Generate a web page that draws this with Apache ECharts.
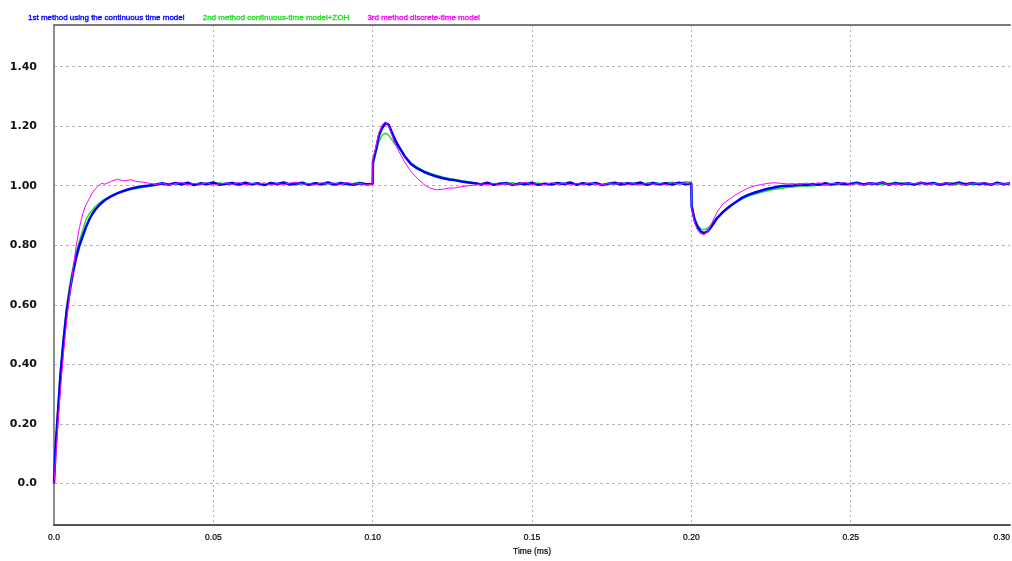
<!DOCTYPE html>
<html>
<head>
<meta charset="utf-8">
<script src="https://cdn.jsdelivr.net/npm/echarts@6/dist/echarts.min.js"></script>
<style>
html,body{margin:0;padding:0;background:#fff;}
#chart{width:1012px;height:561px;}
</style>
</head>
<body>
<div id="chart"></div>
<script>
// Time samples (ms)
const timeMs = [
  0, 0.0005, 0.001, 0.0015, 0.002, 0.003, 0.004, 0.005, 0.006, 0.007, 0.008, 0.009, 0.010, 0.011, 0.012, 0.013, 0.014, 0.015, 0.016, 0.018, 0.020, 0.022, 0.024, 0.026, 0.028, 0.030,
  0.032, 0.034, 0.036, 0.038, 0.040, 0.042, 0.044, 0.046, 0.048, 0.050, 0.052, 0.054, 0.056, 0.058, 0.060, 0.062, 0.064, 0.066, 0.068, 0.070, 0.072, 0.074, 0.076, 0.078, 0.080, 0.082, 0.084, 0.086, 0.088, 0.090, 0.092, 0.094, 0.096, 0.098,
  0.100, 0.1001, 0.101, 0.102, 0.103, 0.104, 0.105, 0.106, 0.107, 0.108, 0.109, 0.110, 0.112, 0.114, 0.116, 0.118, 0.120, 0.122, 0.124, 0.126, 0.128, 0.130,
  0.132, 0.134, 0.136, 0.138, 0.140, 0.142, 0.144, 0.146, 0.148, 0.150, 0.152, 0.154, 0.156, 0.158, 0.160, 0.162, 0.164, 0.166, 0.168, 0.170, 0.172, 0.174, 0.176, 0.178, 0.180, 0.182, 0.184, 0.186, 0.188, 0.190, 0.192, 0.194, 0.196, 0.198,
  0.200, 0.2001, 0.201, 0.202, 0.203, 0.204, 0.205, 0.206, 0.208, 0.210, 0.212, 0.214, 0.216, 0.218, 0.220, 0.222, 0.224, 0.226, 0.228, 0.230,
  0.232, 0.234, 0.236, 0.238, 0.240, 0.242, 0.244, 0.246, 0.248, 0.250, 0.252, 0.254, 0.256, 0.258, 0.260, 0.262, 0.264, 0.266, 0.268, 0.270, 0.272, 0.274, 0.276, 0.278, 0.280, 0.282, 0.284, 0.286, 0.288, 0.290, 0.292, 0.294, 0.296, 0.298, 0.300
];

// 1st method using the continuous time model
const method1 = [
  0, 0.12, 0.2, 0.28, 0.36, 0.48, 0.58, 0.65, 0.71, 0.76, 0.80, 0.83, 0.86, 0.885, 0.905, 0.92, 0.932, 0.943, 0.952, 0.965, 0.975, 0.983, 0.99, 0.995, 0.998, 1.001,
  1.004, 1.008, 1.003, 1.009, 1.005, 1.010, 1.002, 1.008, 1.006, 1.011, 1.003, 1.007, 1.009, 1.004, 1.010, 1.005, 1.008, 1.002, 1.009, 1.006, 1.011, 1.004, 1.007, 1.010, 1.003, 1.008, 1.005, 1.011, 1.004, 1.009, 1.006, 1.003, 1.008, 1.005,
  1.006, 1.08, 1.12, 1.17, 1.195, 1.21, 1.205, 1.18, 1.155, 1.135, 1.118, 1.10, 1.073, 1.058, 1.047, 1.038, 1.031, 1.025, 1.021, 1.018, 1.014, 1.011,
  1.008, 1.004, 1.010, 1.003, 1.007, 1.009, 1.002, 1.008, 1.005, 1.010, 1.003, 1.007, 1.004, 1.009, 1.006, 1.011, 1.003, 1.008, 1.005, 1.009, 1.002, 1.007, 1.010, 1.004, 1.008, 1.006, 1.011, 1.003, 1.009, 1.005, 1.008, 1.004, 1.010, 1.006,
  1.007, 0.93, 0.885, 0.86, 0.846, 0.841, 0.846, 0.858, 0.89, 0.912, 0.93, 0.945, 0.96, 0.97, 0.977, 0.984, 0.99, 0.994, 0.998, 1.0,
  1.001, 1.004, 1.002, 1.006, 1.003, 1.008, 1.004, 1.009, 1.005, 1.007, 1.010, 1.004, 1.008, 1.006, 1.011, 1.003, 1.009, 1.005, 1.008, 1.004, 1.010, 1.006, 1.009, 1.003, 1.008, 1.005, 1.011, 1.004, 1.009, 1.006, 1.008, 1.003, 1.010, 1.005, 1.008
];

// 2nd method continuous-time model+ZOH
const method2 = [
  0, 0.13, 0.22, 0.30, 0.38, 0.50, 0.60, 0.67, 0.73, 0.78, 0.815, 0.85, 0.885, 0.905, 0.918, 0.93, 0.94, 0.948, 0.955, 0.966, 0.975, 0.982, 0.987, 0.991, 0.995, 0.998,
  1.001, 1.006, 1.003, 1.008, 1.002, 1.007, 1.005, 1.009, 1.003, 1.006, 1.010, 1.004, 1.007, 1.002, 1.008, 1.005, 1.010, 1.003, 1.007, 1.004, 1.009, 1.006, 1.002, 1.008, 1.005, 1.010, 1.004, 1.007, 1.003, 1.009, 1.005, 1.008, 1.012, 1.006,
  1.008, 1.07, 1.11, 1.15, 1.17, 1.177, 1.17, 1.155, 1.14, 1.128, 1.115, 1.10, 1.078, 1.062, 1.05, 1.042, 1.035, 1.029, 1.024, 1.02, 1.016, 1.013,
  1.010, 1.007, 1.011, 1.005, 1.009, 1.006, 1.010, 1.004, 1.008, 1.005, 1.009, 1.003, 1.007, 1.010, 1.005, 1.008, 1.004, 1.009, 1.006, 1.011, 1.004, 1.008, 1.005, 1.010, 1.006, 1.009, 1.003, 1.008, 1.011, 1.006, 1.009, 1.012, 1.008, 1.013,
  1.012, 0.94, 0.895, 0.868, 0.855, 0.852, 0.856, 0.866, 0.892, 0.915, 0.932, 0.945, 0.956, 0.965, 0.972, 0.978, 0.983, 0.988, 0.991, 0.994,
  0.996, 0.998, 1.000, 0.999, 1.003, 1.001, 1.005, 1.003, 1.007, 1.004, 1.008, 1.005, 1.009, 1.006, 1.004, 1.008, 1.005, 1.010, 1.006, 1.003, 1.008, 1.005, 1.009, 1.004, 1.007, 1.010, 1.005, 1.008, 1.003, 1.007, 1.009, 1.005, 1.008, 1.004, 1.007
];

// 3rd method discrete-time model
const method3 = [
  0, 0.08, 0.16, 0.24, 0.31, 0.44, 0.55, 0.64, 0.72, 0.80, 0.86, 0.905, 0.935, 0.955, 0.975, 0.99, 1.0, 1.008, 1.005, 1.015, 1.022, 1.016, 1.02, 1.014, 1.012, 1.008,
  1.004, 1.009, 1.002, 1.007, 1.011, 1.003, 1.008, 1.005, 1.010, 1.002, 1.006, 1.009, 1.004, 1.011, 1.003, 1.008, 1.005, 1.010, 1.002, 1.007, 1.004, 1.009, 1.012, 1.005, 1.008, 1.003, 1.010, 1.006, 1.009, 1.004, 1.011, 1.005, 1.008, 1.003,
  1.005, 1.09, 1.13, 1.18, 1.205, 1.215, 1.20, 1.17, 1.14, 1.12, 1.10, 1.08, 1.048, 1.025, 1.005, 0.992, 0.986, 0.988, 0.992, 0.993, 0.997, 1.0,
  1.002, 1.006, 1.003, 1.008, 1.004, 1.009, 1.002, 1.007, 1.011, 1.004, 1.008, 1.003, 1.010, 1.005, 1.009, 1.002, 1.007, 1.004, 1.010, 1.006, 1.003, 1.008, 1.005, 1.011, 1.004, 1.007, 1.002, 1.009, 1.005, 1.008, 1.003, 1.010, 1.006, 1.009,
  1.005, 0.925, 0.875, 0.85, 0.838, 0.836, 0.845, 0.865, 0.91, 0.94, 0.955, 0.97, 0.982, 0.993, 1.0, 1.004, 1.008, 1.01, 1.008, 1.006,
  1.007, 1.004, 1.009, 1.005, 1.010, 1.003, 1.008, 1.006, 1.011, 1.004, 1.008, 1.002, 1.009, 1.005, 1.010, 1.003, 1.007, 1.004, 1.009, 1.006, 1.011, 1.003, 1.008, 1.005, 1.010, 1.004, 1.008, 1.002, 1.009, 1.006, 1.011, 1.004, 1.008, 1.005, 1.009
];

const seriesNames = [
  '1st method using the continuous time model',
  '2nd method continuous-time model+ZOH',
  '3rd method discrete-time model'
];
const seriesColors = ['#0000ff', '#22e022', '#ff00ff'];
const yTicks = [0, 0.2, 0.4, 0.6, 0.8, 1.0, 1.2, 1.4];

function pairs(vals) {
  const n = Math.min(timeMs.length, vals.length);
  const out = [];
  for (let i = 0; i < n; i++) out.push([timeMs[i], vals[i]]);
  return out;
}

const sans = "'Liberation Sans', Arial, sans-serif";

const chart = echarts.init(document.getElementById('chart'), null, {renderer: 'canvas'});
chart.setOption({
  animation: false,
  backgroundColor: '#ffffff',
  legend: {
    top: 8,
    left: 18,
    icon: 'none',
    itemWidth: 0,
    itemHeight: 10,
    itemGap: 13,
    selectedMode: false,
    textStyle: {fontFamily: sans, fontSize: 8},
    data: seriesNames.map((n, i) => ({
      name: n,
      textStyle: {color: seriesColors[i], textBorderColor: seriesColors[i], textBorderWidth: 0.35}
    }))
  },
  grid: {
    left: 54, right: 2, top: 25, bottom: 36,
    show: false, containLabel: false, outerBoundsMode: 'none'
  },
  xAxis: [{
    type: 'value',
    min: 0, max: 0.3, interval: 0.05,
    name: 'Time (ms)',
    nameLocation: 'middle',
    nameGap: 18,
    nameTextStyle: {fontFamily: sans, fontSize: 8.5, color: '#000', textBorderColor: '#000', textBorderWidth: 0.2},
    axisLine: {show: true, onZero: false, lineStyle: {color: '#555', width: 2}},
    axisTick: {show: false},
    axisLabel: {
      fontFamily: sans, fontSize: 8.5, color: '#000', margin: 8, alignMaxLabel: 'right',
      textBorderColor: '#000', textBorderWidth: 0.2,
      formatter: v => (v === 0 ? '0.0' : v.toFixed(2))
    },
    splitLine: {show: true, showMaxLine: false, lineStyle: {color: '#b0b0b0', type: [2, 3], width: 1}}
  }, {
    type: 'value',
    position: 'top',
    min: 0, max: 0.3,
    axisLine: {show: true, onZero: false, lineStyle: {color: '#7a7a7a', width: 2}},
    axisTick: {show: false},
    axisLabel: {show: false},
    splitLine: {show: false}
  }],
  yAxis: {
    type: 'value',
    min: -0.14, max: 1.54,
    axisLine: {show: true, onZero: false, lineStyle: {color: '#8a8a8a', type: [2, 1], width: 2}},
    axisTick: {show: false, customValues: yTicks},
    axisLabel: {
      customValues: yTicks,
      fontFamily: "'DejaVu Sans', Verdana, sans-serif", fontSize: 11, fontWeight: 'bold', color: '#111', margin: 17,
      formatter: v => (Math.abs(v) < 1e-9 ? '0.0' : v.toFixed(2))
    },
    splitLine: {show: true, lineStyle: {color: '#b4b4b4', type: [3, 3], width: 1}}
  },
  series: [
    {name: seriesNames[0], type: 'line', data: pairs(method1), showSymbol: false, z: 3,
     lineStyle: {color: seriesColors[0], width: 2.5}, itemStyle: {color: seriesColors[0]}},
    {name: seriesNames[1], type: 'line', data: pairs(method2), showSymbol: false, z: 2,
     lineStyle: {color: seriesColors[1], width: 1.5}, itemStyle: {color: seriesColors[1]}},
    {name: seriesNames[2], type: 'line', data: pairs(method3), showSymbol: false, z: 4,
     lineStyle: {color: seriesColors[2], width: 1}, itemStyle: {color: seriesColors[2]}}
  ]
});
</script>
</body>
</html>
